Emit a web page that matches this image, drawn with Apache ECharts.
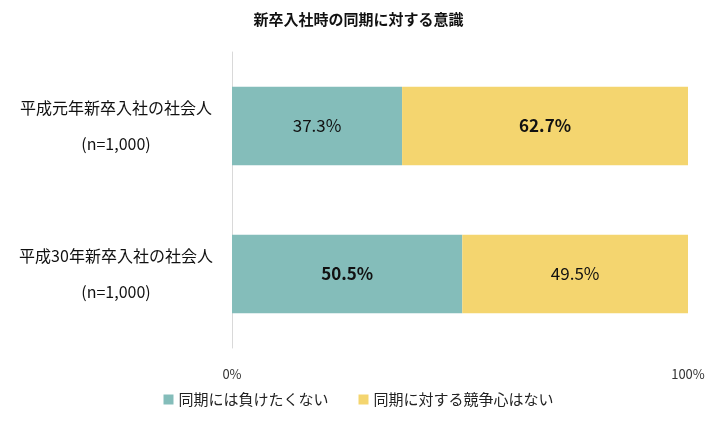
<!DOCTYPE html>
<html><head><meta charset="utf-8">
<script src="https://cdn.jsdelivr.net/npm/echarts@6/dist/echarts.min.js"></script>
<style>html,body{margin:0;padding:0;background:#fff}#c{width:717px;height:421px}</style>
</head><body><div id="c"></div>
<script>
const categories = ['平成元年新卒入社の社会人\n(n=1,000)', '平成30年新卒入社の社会人\n(n=1,000)'];
const seriesNames = ['同期には負けたくない', '同期に対する競争心はない'];
const valuesA = [37.3, 50.5];
const valuesB = [62.7, 49.5];
const boldA = [false, true];
const boldB = [true, false];
const font = '"Noto Sans CJK JP", "Noto Sans", sans-serif';
const chart = echarts.init(document.getElementById('c'));
function mk(name, vals, bolds, color){
  return {name, type:'bar', stack:'s', barWidth:'53%', itemStyle:{color},
    data: vals.map((v,i)=>({value:v, label:{show:true, formatter:v.toFixed(1)+'%', fontSize:17, fontWeight:bolds[i]?'bold':'normal', color:'#111', fontFamily:font}}))};
}
chart.setOption({
  animation:false,
  title:{text:'新卒入社時の同期に対する意識', left:'center', top:7, textStyle:{fontSize:15, fontWeight:'bold', color:'#111', fontFamily:font}},
  legend:{bottom:9, itemWidth:10, itemHeight:10, itemGap:30, icon:'rect', textStyle:{fontSize:15, color:'#222', fontFamily:font}},
  grid:{left:232, right:29, top:52, bottom:73},
  xAxis:{type:'value', min:0, max:100, interval:100, splitLine:{show:false}, axisLine:{show:false}, axisTick:{show:false},
    axisLabel:{formatter:'{value}%', fontSize:13, color:'#333', margin:20, fontFamily:font}},
  yAxis:{type:'category', inverse:true, data:categories, axisTick:{show:false}, axisLine:{lineStyle:{color:'#d9d9d9'}},
    axisLabel:{fontSize:16, color:'#111', lineHeight:36, margin:116, align:'center', fontFamily:font}},
  series:[mk(seriesNames[0], valuesA, boldA, '#84BDBA'), mk(seriesNames[1], valuesB, boldB, '#F4D56F')]
});
</script></body></html>
